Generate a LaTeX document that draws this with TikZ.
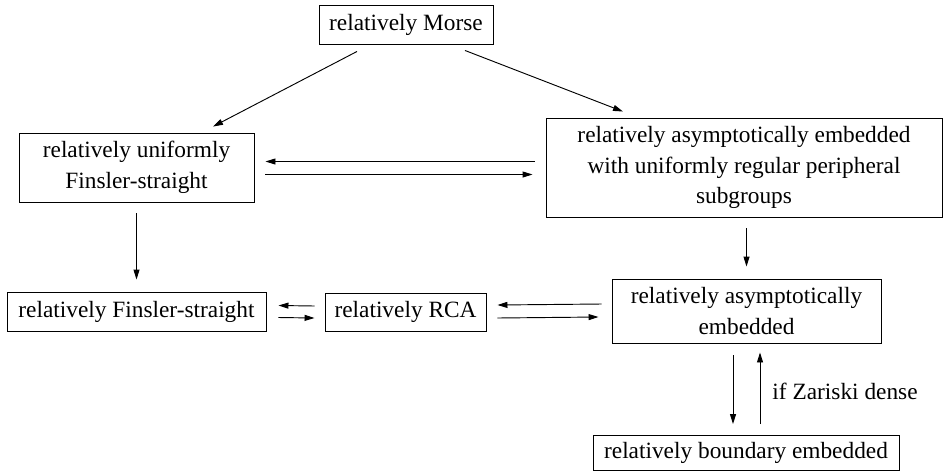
\documentclass[tikz,border=0pt]{standalone}
\usepackage{fontspec}
\setmainfont{Liberation Serif}
\usetikzlibrary{arrows.meta,calc}
\tikzset{
  bx/.style 2 args={draw, line width=0.7pt, minimum width=#1*0.75pt, minimum height=#2*0.75pt,
    inner sep=0pt, align=center, font=\fontsize{17.5}{23}\selectfont},
  arr/.style={line width=0.7pt, -{Triangle[length=7.5pt,width=4.5pt]}},
  lbl/.style={font=\fontsize{17.5}{23}\selectfont, inner sep=0pt}
}
\begin{document}
\begin{tikzpicture}[x=0.75pt,y=-0.75pt]
\useasboundingbox (0,0) rectangle (944,475);
\node[bx={174}{39}] (morse) at (406,24.5) {relatively Morse};
\node[bx={235}{69}] (unif) at (136.5,167.5) {relatively uniformly\\Finsler-straight};
\node[bx={396}{99}] (big) at (744,167.5) {relatively asymptotically embedded\\with uniformly regular peripheral\\subgroups};
\node[bx={259}{39}] (fs) at (136.5,311.5) {relatively Finsler-straight};
\node[bx={161}{38}] (rca) at (405.5,312) {relatively RCA};
\node[bx={269}{64}] (asym) at (746.5,311) {relatively asymptotically\\embedded};
\node[bx={306}{35}] (bnd) at (746,453) {relatively boundary embedded};

\draw[arr] ($(morse.south)+(-49,7)$) -- ($(unif.north)+(76.5,-6)$);
\draw[arr] ($(morse.south)+(59,6)$) -- ($(big.north)+(-121,-6)$);
\draw[arr] ($(big.west)+(-11,-6)$) -- ($(unif.east)+(11,-6)$);
\draw[arr] ($(unif.east)+(11,7)$) -- ($(big.west)+(-13,7)$);
\draw[arr] ($(unif.south)+(0,11)$) -- ($(fs.north)+(0,-12)$);
\draw[arr] ($(rca.west)+(-10,-6)$) -- ($(fs.east)+(12,-6)$);
\draw[arr] ($(fs.east)+(12,6)$) -- ($(rca.west)+(-10,6)$);
\draw[arr] ($(asym.west)+(-10,-7)$) -- ($(rca.east)+(11,-7)$);
\draw[arr] ($(rca.east)+(11,6)$) -- ($(asym.west)+(-13,6)$);
\draw[arr] ($(big.south -| asym.north)+(0,11)$) -- ($(asym.north)+(0,-12)$);
\draw[arr] ($(asym.south)+(-13.5,12)$) -- ($(bnd.north)+(-13,-11)$);
\draw[arr] ($(bnd.north)+(14,-11)$) -- ($(asym.south)+(13.5,9)$) node (zar) [lbl, anchor=west, pos=0.45, xshift=12*0.75pt] {if Zariski dense};
\end{tikzpicture}
\end{document}
